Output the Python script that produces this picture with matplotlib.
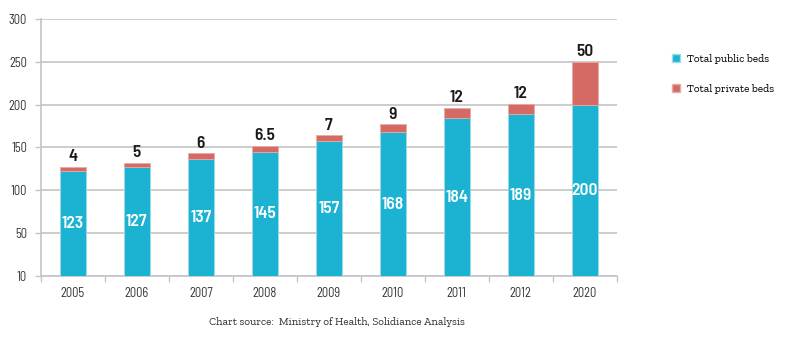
import matplotlib
matplotlib.use("Agg")
import matplotlib.pyplot as plt
from matplotlib.patches import Patch
import numpy as np

years = ['2005', '2006', '2007', '2008', '2009', '2010', '2011', '2012', '2020']
public_beds = [123, 127, 137, 145, 157, 168, 184, 189, 200]
private_beds = [4, 5, 6, 6.5, 7, 9, 12, 12, 50]
private_labels = ['4', '5', '6', '6.5', '7', '9', '12', '12', '50']
y_ticks = [0, 50, 100, 150, 200, 250, 300]
y_tick_labels = ['10', '50', '100', '150', '200', '250', '300']

c_pub = '#1bb3d1'
c_priv = '#d46a63'
grid_c = '#c4c4c4'

cond_fam = ['Barlow Semi Condensed', 'Liberation Sans Narrow', 'DejaVu Sans']
tick_fam = ['Barlow Semi Condensed', 'DejaVu Sans']
slab_fam = ['Zilla Slab', 'Aleo', 'DejaVu Serif']

fig = plt.figure(figsize=(8, 3.49), dpi=100)
ax = fig.add_axes([0.051, 0.209, 0.72, 0.737])

x = np.arange(len(years))
ax.bar(x, public_beds, width=0.4, color=c_pub, edgecolor='#9fdcea', linewidth=0.6, zorder=3)
ax.bar(x, private_beds, width=0.4, bottom=public_beds, color=c_priv,
       edgecolor='#e8aaa5', linewidth=0.6, zorder=3)

for i in range(len(years)):
    ax.text(x[i], public_beds[i] / 2, str(public_beds[i]), ha='center', va='center',
            color='white', fontsize=12.5, fontweight=600, family=cond_fam, zorder=4)
    ax.annotate(private_labels[i], (x[i], public_beds[i] + private_beds[i]),
                xytext=(0, 2), textcoords='offset points', ha='center', va='bottom',
                color='#1a1a1a', fontsize=12.5, fontweight=600, family=cond_fam)

ax.set_xlim(-0.5, len(years) - 0.5)
ax.set_ylim(0, 300)
ax.set_yticks(y_ticks)
ax.set_yticklabels(y_tick_labels, family=tick_fam)
ax.set_xticks(x)
ax.set_xticklabels(years, family=tick_fam)
ax.set_xticks(np.arange(len(years) + 1) - 0.5, minor=True)
ax.tick_params(axis='x', which='major', length=0, pad=8, labelsize=9, labelcolor='#333333')
ax.tick_params(axis='x', which='minor', length=4, color=grid_c, width=1)
ax.tick_params(axis='y', length=4, color=grid_c, width=1, labelsize=9, labelcolor='#333333', pad=6)

ax.yaxis.grid(True, color=grid_c, linewidth=1.2, zorder=0)
ax.set_axisbelow(True)
for s in ['top', 'right']:
    ax.spines[s].set_visible(False)
for s in ['left', 'bottom']:
    ax.spines[s].set_color(grid_c)
    ax.spines[s].set_linewidth(1.2)

handles = [Patch(facecolor=c_pub, edgecolor='#9fdcea', label='Total public beds'),
           Patch(facecolor=c_priv, edgecolor='#e8aaa5', label='Total private beds')]
fig.legend(handles=handles, loc='upper left', bbox_to_anchor=(0.828, 0.875), frameon=False,
           handlelength=0.7, handleheight=0.7, handletextpad=0.6, labelspacing=1.8,
           prop=dict(family=slab_fam, size=8))

fig.text(0.421, 0.077, 'Chart source:  Ministry of Health, Solidiance Analysis',
         ha='center', va='center', fontsize=8, family=slab_fam, color='#333333')

fig.savefig('out.png', dpi=100)
plt.close(fig)
